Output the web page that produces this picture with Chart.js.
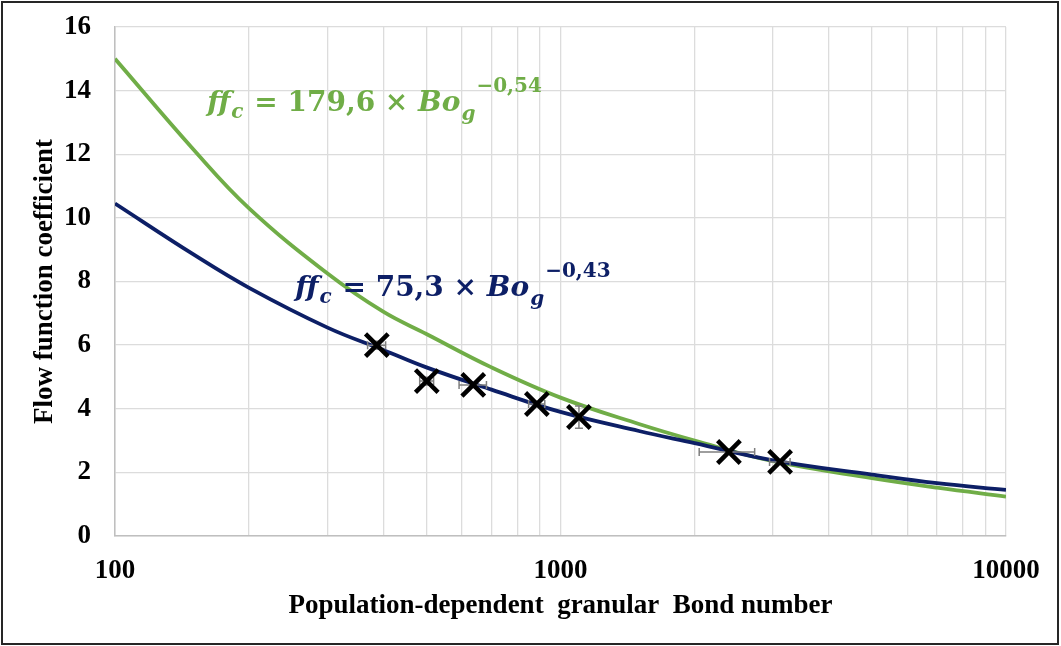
<!DOCTYPE html>
<html lang="en">
<head>
  <meta charset="UTF-8" />
  <title>Flow function coefficient vs. granular Bond number</title>
  <script src="https://cdn.jsdelivr.net/npm/chart.js"></script>
  <style>
    html, body {
      margin: 0;
      padding: 0;
      background: #fff;
    }
    canvas {
      display: block;
    }
  </style>
</head>
<body>
  <canvas id="ffcChart" width="1061" height="646"></canvas>

  <script>
    // measured samples (Bo_g, ff_c) with their error bars
    const bondNumber = [387, 501, 637, 885, 1100, 2388, 3111];
    const ffcMeasured = [6.0, 4.87, 4.75, 4.15, 3.74, 2.64, 2.33];
    const bondErr = [18, 18, 45, 37, 20, 340, 165];
    const ffcErr = [0.12, 0.12, 0.05, 0.08, 0.35, 0.05, 0.05];

    // fitted power-law curves, read along their length
    const fitBond = [100, 150, 200, 300, 400, 500, 700, 1000, 1500, 2000, 3000, 5000, 7000, 10000];
    const fitGreen = [15.0, 12.15, 10.3, 8.25, 7.05, 6.35, 5.3, 4.35, 3.52, 3.0, 2.35, 1.82, 1.52, 1.24];
    const fitBlue = [10.45, 8.85, 7.8, 6.55, 5.85, 5.3, 4.6, 3.9, 3.3, 2.92, 2.38, 1.93, 1.66, 1.45];

    // axis ticks
    const xTicks = [100, 200, 300, 400, 500, 600, 700, 800, 900,
                    1000, 2000, 3000, 4000, 5000, 6000, 7000, 8000, 9000, 10000];
    const xLabelled = [100, 1000, 10000];
    const yTicks = [0, 2, 4, 6, 8, 10, 12, 14, 16];

    // equation labels: anchor (Bo_g, ff_c) of the text baseline start
    const greenEq = { coef: '179,6', exp: '0,54', at: [161, 13.35] };
    const blueEq = { coef: '75,3', exp: '0,43', at: [254, 7.53] };

    const GREEN = '#70ad47';
    const NAVY = '#0d1f66';
    const serifTicks = "'Liberation Serif', 'Times New Roman', serif";
    const mathFont = "'DejaVu Serif', serif";

    const toXY = (xs, ys) => xs.map((x, i) => ({ x: x, y: ys[i] }));

    // rich text for ff_c = a × Bo_g^-b
    function drawEquation(ctx, x, y, color, coef, exp) {
      const big = 28, small = 20;
      const parts = [
        { t: 'ff', it: true, s: big, dy: 0 },
        { t: 'c', it: true, s: small, dy: 7 },
        { t: ' = ' + coef + ' × ', it: false, s: big, dy: 0 },
        { t: 'Bo', it: true, s: big, dy: 0 },
        { t: 'g', it: true, s: small, dy: 9 },
        { t: '−' + exp, it: false, s: small, dy: -19 }
      ];
      ctx.save();
      ctx.fillStyle = color;
      ctx.textBaseline = 'alphabetic';
      ctx.textAlign = 'left';
      let cx = x;
      for (const p of parts) {
        ctx.font = (p.it ? 'italic ' : '') + 'bold ' + p.s + 'px ' + mathFont;
        ctx.fillText(p.t, cx, y + p.dy);
        cx += ctx.measureText(p.t).width + (p.it ? 1 : 0);
      }
      ctx.restore();
    }

    // grey error bars under the X markers
    const errorBars = {
      id: 'errorBars',
      beforeDatasetDraw(chart, args) {
        if (args.index !== 0) return;
        const { ctx, scales: { x, y } } = chart;
        ctx.save();
        ctx.strokeStyle = '#7f7f7f';
        ctx.lineWidth = 1.5;
        const cap = 4;
        bondNumber.forEach((b, i) => {
          const px = x.getPixelForValue(b);
          const py = y.getPixelForValue(ffcMeasured[i]);
          const x0 = x.getPixelForValue(b - bondErr[i]);
          const x1 = x.getPixelForValue(b + bondErr[i]);
          const y0 = y.getPixelForValue(ffcMeasured[i] - ffcErr[i]);
          const y1 = y.getPixelForValue(ffcMeasured[i] + ffcErr[i]);
          ctx.beginPath();
          ctx.moveTo(x0, py); ctx.lineTo(x1, py);
          ctx.moveTo(x0, py - cap); ctx.lineTo(x0, py + cap);
          ctx.moveTo(x1, py - cap); ctx.lineTo(x1, py + cap);
          ctx.moveTo(px, y0); ctx.lineTo(px, y1);
          ctx.moveTo(px - cap, y0); ctx.lineTo(px + cap, y0);
          ctx.moveTo(px - cap, y1); ctx.lineTo(px + cap, y1);
          ctx.stroke();
        });
        ctx.restore();
      }
    };

    // equations and the outer frame
    const decorations = {
      id: 'decorations',
      beforeDraw(chart) {
        const ctx = chart.ctx;
        ctx.save();
        ctx.fillStyle = '#fff';
        ctx.fillRect(0, 0, chart.width, chart.height);
        ctx.restore();
      },
      afterDraw(chart) {
        const { ctx, scales: { x, y } } = chart;
        drawEquation(ctx, x.getPixelForValue(greenEq.at[0]), y.getPixelForValue(greenEq.at[1]),
          GREEN, greenEq.coef, greenEq.exp);
        drawEquation(ctx, x.getPixelForValue(blueEq.at[0]), y.getPixelForValue(blueEq.at[1]),
          NAVY, blueEq.coef, blueEq.exp);
        ctx.save();
        ctx.strokeStyle = '#262626';
        ctx.lineWidth = 2;
        ctx.strokeRect(2, 2, chart.width - 5, chart.height - 4);
        ctx.restore();
      }
    };

    const labelFont = { family: serifTicks, size: 27, weight: 'bold' };

    const ctx = document.getElementById('ffcChart').getContext('2d');
    new Chart(ctx, {
      type: 'scatter',
      data: {
        datasets: [
          {
            label: 'measured',
            data: toXY(bondNumber, ffcMeasured),
            pointStyle: 'crossRot',
            pointRadius: 16,
            pointBorderWidth: 4.5,
            borderColor: '#000',
            backgroundColor: '#000',
            showLine: false
          },
          {
            label: 'fit 75,3',
            data: toXY(fitBond, fitBlue),
            showLine: true,
            borderColor: NAVY,
            borderWidth: 3.8,
            pointRadius: 0,
            tension: 0.4
          },
          {
            label: 'fit 179,6',
            data: toXY(fitBond, fitGreen),
            showLine: true,
            borderColor: GREEN,
            borderWidth: 3.8,
            pointRadius: 0,
            tension: 0.4
          }
        ]
      },
      options: {
        responsive: false,
        animation: false,
        layout: { padding: { left: 0, top: 27, right: 55, bottom: 0 } },
        plugins: {
          legend: { display: false },
          tooltip: { enabled: false }
        },
        scales: {
          x: {
            type: 'logarithmic',
            min: 100,
            max: 10000,
            afterBuildTicks: (scale) => { scale.ticks = xTicks.map(v => ({ value: v })); },
            afterFit: (scale) => {
              scale.height = 110;
              scale.paddingLeft = 0;
              scale.paddingRight = 0;
            },
            grid: { color: '#dcdcdc', lineWidth: 1.3, drawTicks: false },
            border: { color: '#bfbfbf', width: 1.5 },
            ticks: {
              autoSkip: false,
              maxRotation: 0,
              padding: 19,
              color: '#000',
              font: labelFont,
              callback: (v) => xLabelled.includes(v) ? String(v) : ''
            },
            title: {
              display: true,
              text: 'Population-dependent  granular  Bond number',
              color: '#000',
              font: labelFont,
              padding: { top: 0, bottom: 24 }
            }
          },
          y: {
            min: 0,
            max: 16,
            afterBuildTicks: (scale) => { scale.ticks = yTicks.map(v => ({ value: v })); },
            afterFit: (scale) => {
              scale.width = 115;
              scale.paddingTop = 0;
              scale.paddingBottom = 0;
            },
            grid: { color: '#dcdcdc', lineWidth: 1.3, drawTicks: false },
            border: { color: '#bfbfbf', width: 1.5 },
            ticks: {
              padding: 24,
              color: '#000',
              font: labelFont
            },
            title: {
              display: true,
              text: 'Flow function coefficient',
              color: '#000',
              font: labelFont,
              padding: { top: 29, bottom: 0 }
            }
          }
        }
      },
      plugins: [errorBars, decorations]
    });
  </script>
</body>
</html>
